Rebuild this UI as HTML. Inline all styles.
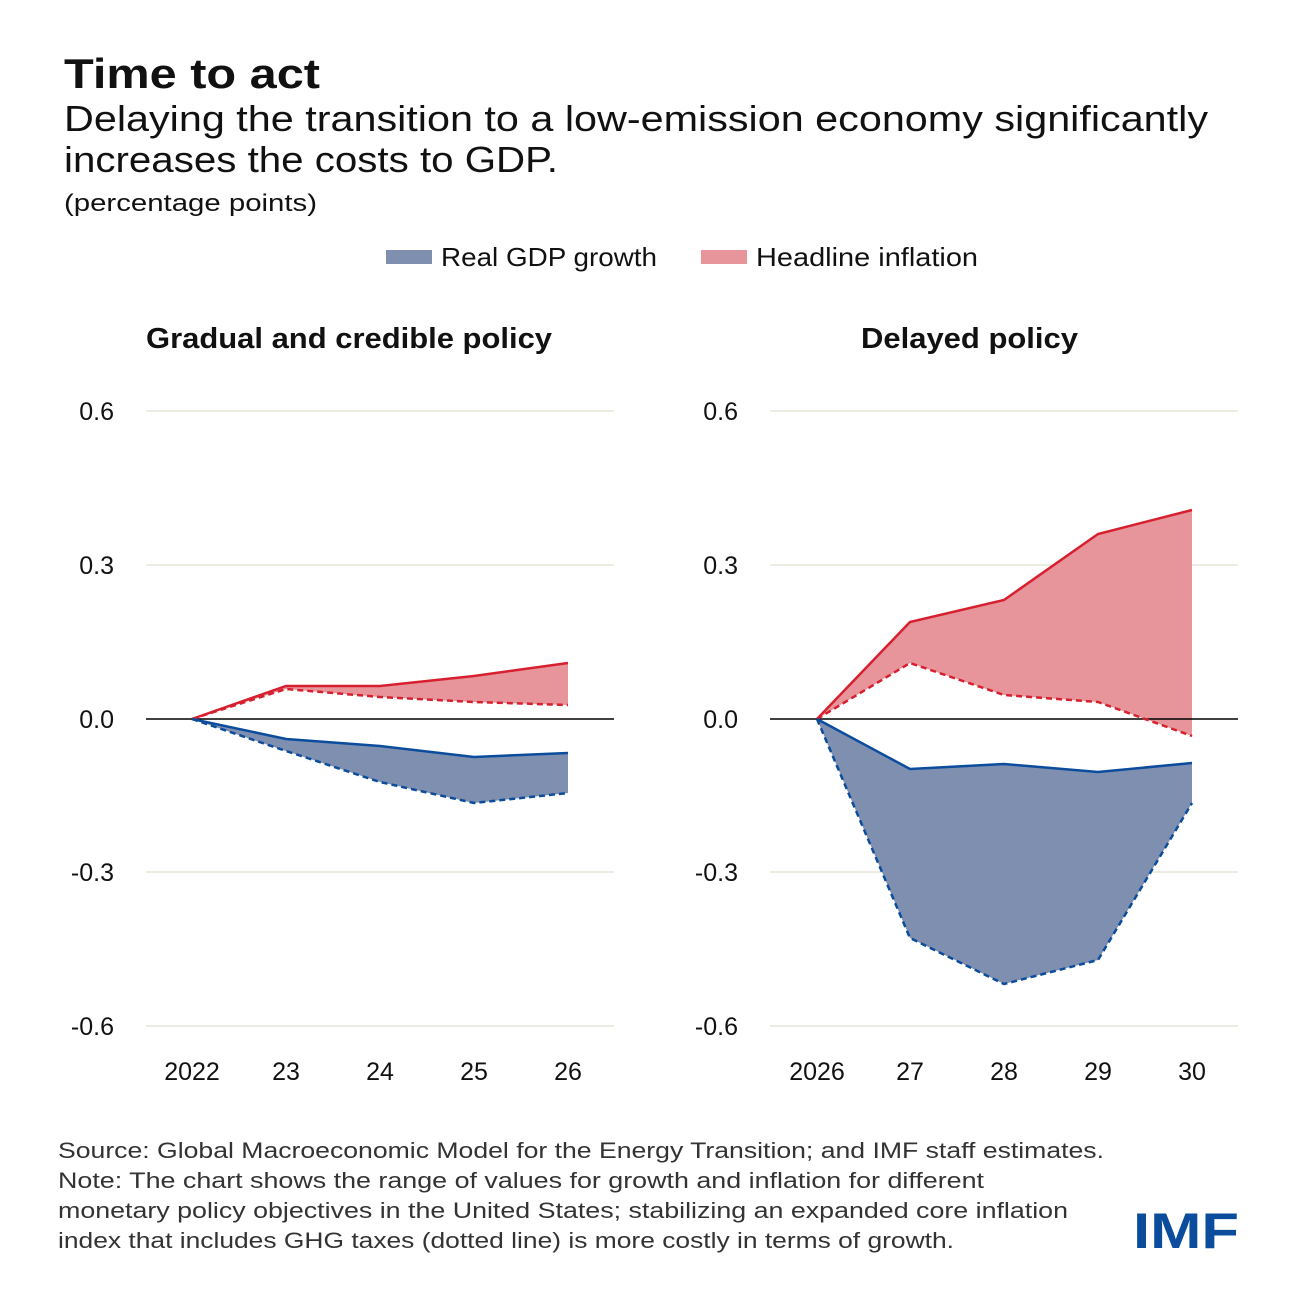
<!DOCTYPE html>
<html><head><meta charset="utf-8"><style>
body{margin:0;background:#fff;}
svg text{font-family:"Liberation Sans",sans-serif;fill:#111;}
</style></head><body>
<svg width="1300" height="1300" viewBox="0 0 1300 1300" xmlns="http://www.w3.org/2000/svg">
<rect width="1300" height="1300" fill="#fff"/>
<text x="64" y="88" font-size="42" font-weight="bold" textLength="256" lengthAdjust="spacingAndGlyphs">Time to act</text>
<text x="64" y="131" font-size="36" textLength="1144" lengthAdjust="spacingAndGlyphs">Delaying the transition to a low-emission economy significantly</text>
<text x="64" y="172" font-size="36" textLength="494" lengthAdjust="spacingAndGlyphs">increases the costs to GDP.</text>
<text x="64" y="211" font-size="24" textLength="253" lengthAdjust="spacingAndGlyphs">(percentage points)</text>
<rect x="386" y="250" width="46" height="14" fill="#7f8fb0"/>
<text x="441" y="266" font-size="26" textLength="216" lengthAdjust="spacingAndGlyphs">Real GDP growth</text>
<rect x="701" y="250" width="46" height="14" fill="#e8949b"/>
<text x="756" y="266" font-size="26" textLength="222" lengthAdjust="spacingAndGlyphs">Headline inflation</text>
<text x="146" y="348" font-size="29" font-weight="bold" textLength="406" lengthAdjust="spacingAndGlyphs">Gradual and credible policy</text>
<text x="861" y="348" font-size="29" font-weight="bold" textLength="217" lengthAdjust="spacingAndGlyphs">Delayed policy</text>
<g stroke="#e6e6d8" stroke-width="1.5">
<line x1="146" x2="614" y1="411" y2="411"/><line x1="146" x2="614" y1="565" y2="565"/><line x1="146" x2="614" y1="872" y2="872"/><line x1="146" x2="614" y1="1026" y2="1026"/>
<line x1="770" x2="1238" y1="411" y2="411"/><line x1="770" x2="1238" y1="565" y2="565"/><line x1="770" x2="1238" y1="872" y2="872"/><line x1="770" x2="1238" y1="1026" y2="1026"/>
</g>
<g font-size="25" text-anchor="end">
<text x="114" y="420">0.6</text><text x="114" y="574">0.3</text><text x="114" y="728">0.0</text><text x="114" y="881">-0.3</text><text x="114" y="1035">-0.6</text>
<text x="738" y="420">0.6</text><text x="738" y="574">0.3</text><text x="738" y="728">0.0</text><text x="738" y="881">-0.3</text><text x="738" y="1035">-0.6</text>
</g>
<g font-size="25" text-anchor="middle">
<text x="192" y="1080">2022</text><text x="286" y="1080">23</text><text x="380" y="1080">24</text><text x="474" y="1080">25</text><text x="568" y="1080">26</text>
<text x="817" y="1080">2026</text><text x="910" y="1080">27</text><text x="1004" y="1080">28</text><text x="1098" y="1080">29</text><text x="1192" y="1080">30</text>
</g>
<polygon points="192,719 286,686 380,686 474,676 568,663 568,705 474,702 380,697 286,689" fill="#e8949b"/>
<polygon points="192,719 286,739 380,746 474,757 568,753 568,793 474,803 380,782 286,751" fill="#7f8fb0"/>
<polygon points="817,719 910,622 1004,600 1098,534 1192,510 1192,736 1098,702 1004,695 910,663" fill="#e8949b"/>
<polygon points="817,719 910,769 1004,764 1098,772 1192,763 1192,803 1098,960 1004,984 910,938" fill="#7f8fb0"/>
<line x1="146" x2="614" y1="719" y2="719" stroke="#000" stroke-width="1.5"/>
<line x1="770" x2="1238" y1="719" y2="719" stroke="#000" stroke-width="1.5"/>
<g fill="none" stroke-width="2.5">
<polyline points="192,719 286,686 380,686 474,676 568,663" stroke="#d7202f"/>
<polyline points="192,719 286,689 380,697 474,702 568,705" stroke="#d7202f" stroke-dasharray="6,4"/>
<polyline points="192,719 286,739 380,746 474,757 568,753" stroke="#0b4c9c"/>
<polyline points="192,719 286,751 380,782 474,803 568,793" stroke="#0b4c9c" stroke-dasharray="6,4"/>
<polyline points="817,719 910,622 1004,600 1098,534 1192,510" stroke="#d7202f"/>
<polyline points="817,719 910,663 1004,695 1098,702 1192,736" stroke="#d7202f" stroke-dasharray="6,4"/>
<polyline points="817,719 910,769 1004,764 1098,772 1192,763" stroke="#0b4c9c"/>
<polyline points="817,719 910,938 1004,984 1098,960 1192,803" stroke="#0b4c9c" stroke-dasharray="6,4"/>
</g>
<g font-size="22">
<text x="58" y="1158" style="fill:#333" textLength="1046" lengthAdjust="spacingAndGlyphs">Source: Global Macroeconomic Model for the Energy Transition; and IMF staff estimates.</text>
<text x="58" y="1188" style="fill:#333" textLength="926" lengthAdjust="spacingAndGlyphs">Note: The chart shows the range of values for growth and inflation for different</text>
<text x="58" y="1218" style="fill:#333" textLength="1010" lengthAdjust="spacingAndGlyphs">monetary policy objectives in the United States; stabilizing an expanded core inflation</text>
<text x="58" y="1248" style="fill:#333" textLength="896" lengthAdjust="spacingAndGlyphs">index that includes GHG taxes (dotted line) is more costly in terms of growth.</text>
</g>
<text x="1133" y="1248" font-size="50" font-weight="bold" style="fill:#0b4c9c" textLength="106" lengthAdjust="spacingAndGlyphs">IMF</text>
</svg>
</body></html>
